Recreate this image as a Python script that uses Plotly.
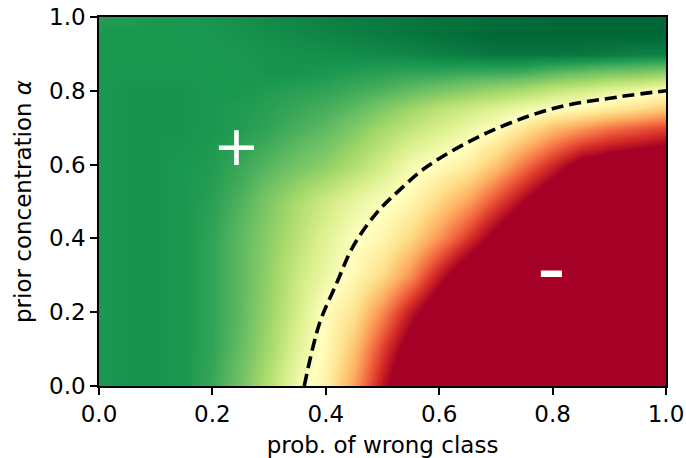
import plotly.graph_objects as go

# ---- data ----
wrong_prob = [0.00, 0.05, 0.10, 0.15, 0.20, 0.25, 0.30, 0.35, 0.40, 0.45, 0.50,
              0.55, 0.60, 0.65, 0.70, 0.75, 0.80, 0.85, 0.90, 0.95, 1.00]
prior_alpha = [0.0, 0.1, 0.2, 0.3, 0.4, 0.5, 0.6, 0.7, 0.75, 0.8, 0.85, 0.9, 0.95, 1.0]

# colour value (<=0 dark red, 0.5 pale yellow, 1 dark green), one row per alpha
row_a000 = [0.90, 0.91, 0.91, 0.90, 0.86, 0.78, 0.67, 0.54, 0.45, 0.28, 0.04, -0.17, -0.32, -0.47, -0.62, -0.77, -0.90, -1.0, -1.0, -1.0, -1.0]
row_a010 = [0.90, 0.91, 0.91, 0.90, 0.87, 0.80, 0.70, 0.58, 0.48, 0.34, 0.12, -0.08, -0.25, -0.40, -0.55, -0.70, -0.85, -1.0, -1.0, -1.0, -1.0]
row_a020 = [0.90, 0.91, 0.91, 0.90, 0.87, 0.81, 0.72, 0.61, 0.49, 0.41, 0.24, 0.05, -0.12, -0.28, -0.44, -0.60, -0.75, -0.90, -1.0, -1.0, -1.0]
row_a030 = [0.90, 0.91, 0.91, 0.90, 0.87, 0.81, 0.73, 0.63, 0.55, 0.48, 0.39, 0.25, 0.06, -0.12, -0.27, -0.42, -0.57, -0.72, -0.87, -1.0, -1.0]
row_a040 = [0.90, 0.91, 0.91, 0.90, 0.87, 0.81, 0.74, 0.66, 0.58, 0.51, 0.47, 0.38, 0.26, 0.11, -0.05, -0.20, -0.35, -0.50, -0.65, -0.80, -0.95]
row_a050 = [0.90, 0.91, 0.91, 0.90, 0.88, 0.83, 0.76, 0.69, 0.62, 0.56, 0.51, 0.47, 0.38, 0.28, 0.14, 0.00, -0.14, -0.27, -0.40, -0.52, -0.64]
row_a060 = [0.90, 0.91, 0.91, 0.90, 0.89, 0.86, 0.82, 0.78, 0.74, 0.68, 0.61, 0.53, 0.49, 0.44, 0.34, 0.21, 0.08, -0.05, -0.10, -0.13, -0.15]
row_a070 = [0.90, 0.91, 0.91, 0.91, 0.90, 0.89, 0.87, 0.84, 0.81, 0.76, 0.70, 0.65, 0.60, 0.55, 0.50, 0.42, 0.33, 0.27, 0.21, 0.17, 0.13]
row_a075 = [0.90, 0.91, 0.91, 0.91, 0.90, 0.89, 0.88, 0.86, 0.84, 0.81, 0.76, 0.71, 0.66, 0.62, 0.58, 0.54, 0.50, 0.47, 0.43, 0.39, 0.35]
row_a080 = [0.90, 0.91, 0.91, 0.91, 0.90, 0.90, 0.89, 0.88, 0.87, 0.85, 0.83, 0.80, 0.77, 0.74, 0.71, 0.68, 0.64, 0.61, 0.57, 0.54, 0.50]
row_a085 = [0.90, 0.90, 0.90, 0.90, 0.90, 0.90, 0.91, 0.91, 0.90, 0.89, 0.88, 0.87, 0.87, 0.86, 0.86, 0.85, 0.82, 0.80, 0.78, 0.77, 0.75]
row_a090 = [0.90, 0.90, 0.90, 0.90, 0.90, 0.905, 0.91, 0.915, 0.92, 0.925, 0.93, 0.94, 0.95, 0.96, 0.97, 0.97, 0.97, 0.97, 0.96, 0.95, 0.95]
row_a095 = [0.90, 0.90, 0.90, 0.90, 0.905, 0.91, 0.92, 0.93, 0.94, 0.95, 0.96, 0.97, 0.98, 0.99, 1.0, 1.0, 1.0, 1.0, 1.0, 1.0, 1.0]
row_a100 = [0.89, 0.89, 0.90, 0.90, 0.91, 0.92, 0.93, 0.94, 0.95, 0.96, 0.96, 0.97, 0.98, 0.98, 0.99, 0.99, 1.0, 1.0, 1.0, 1.0, 1.0]

# dashed decision boundary
boundary_x = [0.362, 0.389, 0.419, 0.448, 0.489, 0.530, 0.580, 0.683, 0.801, 0.919, 1.000]
boundary_y = [0.000, 0.170, 0.278, 0.378, 0.468, 0.531, 0.596, 0.685, 0.752, 0.784, 0.800]

tick_vals = [0.0, 0.2, 0.4, 0.6, 0.8, 1.0]
tick_text = ["0.0", "0.2", "0.4", "0.6", "0.8", "1.0"]

score = [row_a000, row_a010, row_a020, row_a030, row_a040, row_a050, row_a060,
         row_a070, row_a075, row_a080, row_a085, row_a090, row_a095, row_a100]

rdylgn = ['rgb(165,0,38)', 'rgb(215,48,39)', 'rgb(244,109,67)', 'rgb(253,174,97)',
          'rgb(254,224,139)', 'rgb(255,255,191)', 'rgb(217,239,139)', 'rgb(166,217,106)',
          'rgb(102,189,99)', 'rgb(26,152,80)', 'rgb(0,104,55)']
colorscale = [[i / 10, c] for i, c in enumerate(rdylgn)]

FONT = "DejaVu Sans"
FS = 23

fig = go.Figure()
fig.add_trace(go.Heatmap(
    x=wrong_prob, y=prior_alpha, z=score,
    zmin=0, zmax=1, colorscale=colorscale, zsmooth="best",
    showscale=False, hoverinfo="skip",
))
fig.add_trace(go.Scatter(
    x=boundary_x, y=boundary_y, mode="lines",
    line=dict(color="black", width=3.6, dash="12px,6px", shape="spline", smoothing=1.0),
    hoverinfo="skip", showlegend=False,
))

fig.add_annotation(x=0.243, y=0.648, text="+", showarrow=False,
                   font=dict(family=FONT, size=56, color="white"),
                   xanchor="center", yanchor="middle", yshift=1)
fig.add_annotation(x=0.795, y=0.306, text="-", showarrow=False,
                   font=dict(family=FONT, size=80, color="white"),
                   xanchor="center", yanchor="middle", xshift=2, yshift=5)

axis_common = dict(
    showgrid=False, zeroline=False, showline=True, linecolor="black", linewidth=1.5,
    mirror=True, ticks="outside", ticklen=7, tickwidth=1.5, tickcolor="black",
    tickvals=tick_vals, ticktext=tick_text, range=[0, 1], automargin=False,
    tickfont=dict(family=FONT, size=FS, color="black"),
)

fig.update_layout(
    width=686, height=458,
    margin=dict(l=99, r=20, t=17, b=72, autoexpand=False),
    paper_bgcolor="white", plot_bgcolor="white",
    showlegend=False,
    xaxis=dict(**axis_common,
               title=dict(text="prob. of wrong class", font=dict(family=FONT, size=FS, color="black"),
                          standoff=12)),
    yaxis=dict(**axis_common,
               title=dict(text="prior concentration <i>α</i>", font=dict(family=FONT, size=FS, color="black"),
                          standoff=11)),
)

fig.write_html("out.html", config={"displayModeBar": False},
               post_script="document.body.style.margin='0';document.body.style.overflow='hidden';")
